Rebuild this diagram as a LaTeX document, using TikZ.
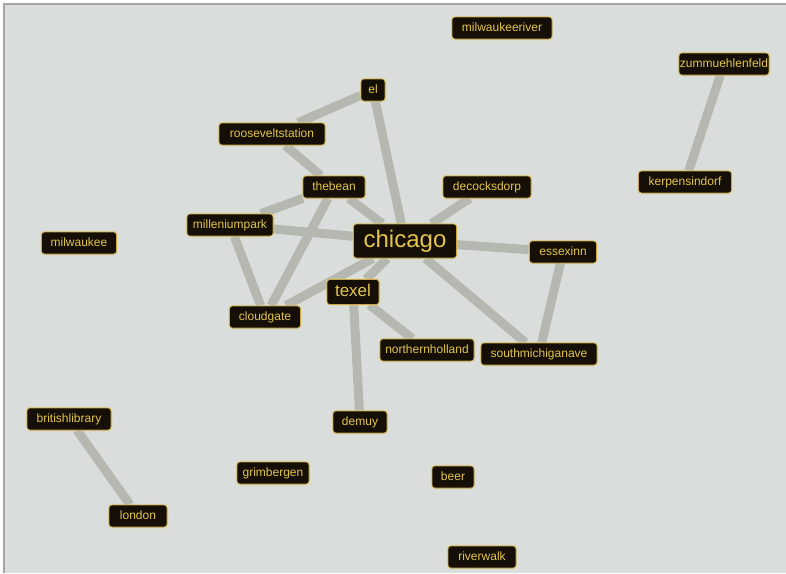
\documentclass[tikz,border=0pt]{standalone}
\usepackage{fontspec}
\setmainfont{Liberation Sans}
\usetikzlibrary{backgrounds}
\definecolor{bgc}{HTML}{D9DEDC}
\definecolor{framec}{HTML}{A3A6A5}
\definecolor{edgec}{HTML}{B5B8B0}
\definecolor{nodefill}{HTML}{150F07}
\definecolor{nodeedge}{HTML}{C9A63E}
\definecolor{glowc}{HTML}{E8D58A}
\definecolor{nodetext}{HTML}{E2C649}
\tikzset{
  lbl/.style={fill=nodefill, draw=nodeedge, line width=0.7pt, rounded corners=3pt,
    text=nodetext, font=\fontsize{12}{12}\selectfont, minimum height=22pt,
    inner xsep=0pt, inner ysep=0pt, text height=8pt, text depth=2pt,
    preaction={draw=glowc, line width=3pt, opacity=0.35}},
  biglbl/.style={lbl, font=\fontsize{24}{24}\selectfont, minimum height=34pt,
    text height=16pt, text depth=4pt},
  midlbl/.style={lbl, font=\fontsize{17}{17}\selectfont, minimum height=25pt,
    text height=11pt, text depth=3pt},
  edge/.style={draw=edgec, line width=9pt}
}
\begin{document}
\begin{tikzpicture}[x=1pt,y=-1pt]
\useasboundingbox (0,0) rectangle (786,573);
\node[lbl, minimum width=100pt] (milwaukeeriver) at (502,28) {milwaukeeriver};
\node[lbl, minimum width=90pt] (zummuehlenfeld) at (724,64) {zummuehlenfeld};
\node[lbl, minimum width=24pt] (el) at (373,90) {el};
\node[lbl, minimum width=106pt] (rooseveltstation) at (272,134) {rooseveltstation};
\node[lbl, minimum width=93pt] (kerpensindorf) at (685,182) {kerpensindorf};
\node[lbl, minimum width=62pt] (thebean) at (334,187) {thebean};
\node[lbl, minimum width=88pt] (decocksdorp) at (487,187) {decocksdorp};
\node[lbl, minimum width=86pt] (milleniumpark) at (230,225) {milleniumpark};
\node[biglbl, minimum width=103pt] (chicago) at (405,241) {chicago};
\node[lbl, minimum width=75pt] (milwaukee) at (79,243) {milwaukee};
\node[lbl, minimum width=67pt] (essexinn) at (563,252) {essexinn};
\node[midlbl, minimum width=52pt] (texel) at (353,292) {texel};
\node[lbl, minimum width=71pt] (cloudgate) at (265,317) {cloudgate};
\node[lbl, minimum width=94pt] (northernholland) at (427,350) {northernholland};
\node[lbl, minimum width=116pt] (southmichiganave) at (539,354) {southmichiganave};
\node[lbl, minimum width=84pt] (britishlibrary) at (69,419) {britishlibrary};
\node[lbl, minimum width=54pt] (demuy) at (360,422) {demuy};
\node[lbl, minimum width=72pt] (grimbergen) at (273,473) {grimbergen};
\node[lbl, minimum width=42pt] (beer) at (453,477) {beer};
\node[lbl, minimum width=58pt] (london) at (138,516) {london};
\node[lbl, minimum width=68pt] (riverwalk) at (482,557) {riverwalk};
\begin{scope}[on background layer]
  \fill[white] (0,0) rectangle (786,573);
  \fill[bgc] (4,4) rectangle (786,573);
  \draw[framec, line width=2pt] (4,573) -- (4,4) -- (786,4);
  \draw[edge] (el) -- (rooseveltstation);
  \draw[edge] (el) -- (chicago);
  \draw[edge] (rooseveltstation) -- (thebean);
  \draw[edge] (thebean) -- (chicago);
  \draw[edge] (thebean) -- (milleniumpark);
  \draw[edge] (thebean) -- (cloudgate);
  \draw[edge] (milleniumpark) -- (chicago);
  \draw[edge] (milleniumpark) -- (cloudgate);
  \draw[edge] (cloudgate) -- (chicago);
  \draw[edge] (texel) -- (chicago);
  \draw[edge] (texel) -- (northernholland);
  \draw[edge] (texel) -- (demuy);
  \draw[edge] (chicago) -- (decocksdorp);
  \draw[edge] (chicago) -- (essexinn);
  \draw[edge] (chicago) -- (southmichiganave);
  \draw[edge] (essexinn) -- (southmichiganave);
  \draw[edge] (britishlibrary) -- (london);
  \draw[edge] (zummuehlenfeld) -- (kerpensindorf);
\end{scope}
\end{tikzpicture}
\end{document}
